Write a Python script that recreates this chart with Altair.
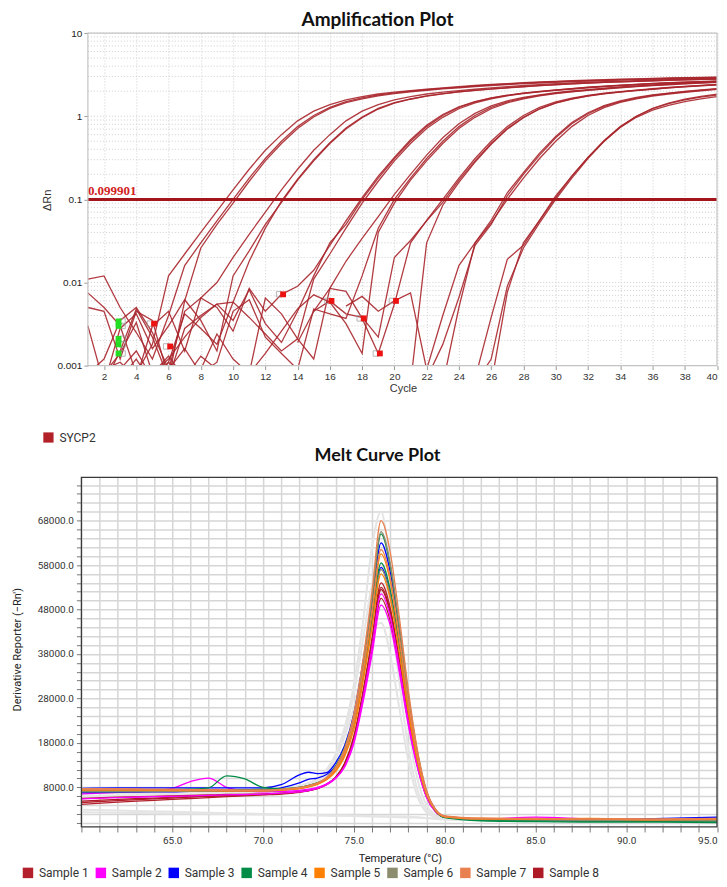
import altair as alt
import pandas as pd

# ---------------- Amplification plot: ΔRn per cycle, one list per well ----------------
THRESHOLD = 0.099901
TARGET = "SYCP2"

A1 = [0.011, 0.012, 0.005, 0.0025, 0.0012, 0.004, 0.016, 0.03, 0.055, 0.1, 0.18, 0.31, 0.5, 0.75, 1.02, 1.28, 1.5, 1.66, 1.8, 1.91, 2.0, 2.08, 2.16, 2.24, 2.31, 2.38, 2.44, 2.5, 2.55, 2.6, 2.64, 2.68, 2.72, 2.76, 2.79, 2.82, 2.85, 2.88, 2.91, 2.93]
A2 = [0.0075, 0.005, 0.003, 0.0008, 0.0018, 0.012, 0.022, 0.04, 0.072, 0.13, 0.23, 0.39, 0.6, 0.88, 1.15, 1.38, 1.57, 1.72, 1.85, 1.95, 2.03, 2.11, 2.19, 2.27, 2.34, 2.41, 2.47, 2.53, 2.58, 2.63, 2.67, 2.71, 2.75, 2.79, 2.82, 2.85, 2.88, 2.91, 2.94, 2.96]
A3 = [0.005, 0.0045, 0.0012, 0.0045, 0.0035, 0.0007, 0.006, 0.026, 0.05, 0.09, 0.165, 0.29, 0.47, 0.71, 0.98, 1.24, 1.46, 1.62, 1.76, 1.87, 1.97, 2.05, 2.13, 2.2, 2.27, 2.34, 2.4, 2.46, 2.51, 2.56, 2.6, 2.64, 2.68, 2.72, 2.75, 2.78, 2.81, 2.84, 2.86, 2.88]
B1 = [0.0008, 0.0012, 0.0035, 0.005, 0.0025, 0.0009, 0.0045, 0.0065, 0.01, 0.02, 0.038, 0.07, 0.13, 0.23, 0.39, 0.6, 0.88, 1.15, 1.38, 1.57, 1.72, 1.85, 1.95, 2.03, 2.11, 2.19, 2.27, 2.34, 2.4, 2.46, 2.51, 2.56, 2.6, 2.64, 2.68, 2.72, 2.75, 2.78, 2.81, 2.84]
B2 = [0.003, 0.0006, 0.0015, 0.0048, 0.0022, 0.0007, 0.0028, 0.004, 0.0055, 0.0058, 0.018, 0.045, 0.095, 0.175, 0.3, 0.48, 0.72, 0.98, 1.24, 1.46, 1.62, 1.76, 1.87, 1.97, 2.05, 2.13, 2.2, 2.27, 2.34, 2.4, 2.45, 2.5, 2.55, 2.59, 2.63, 2.67, 2.71, 2.74, 2.77, 2.8]
B3 = [0.0009, 0.0006, 0.0028, 0.0042, 0.0016, 0.003, 0.0062, 0.0035, 0.0015, 0.012, 0.024, 0.05, 0.092, 0.17, 0.29, 0.47, 0.7, 0.96, 1.22, 1.44, 1.6, 1.74, 1.86, 1.96, 2.04, 2.12, 2.19, 2.26, 2.33, 2.39, 2.45, 2.5, 2.55, 2.59, 2.63, 2.67, 2.7, 2.73, 2.76, 2.79]
C1 = [0.0007, 0.0009, 0.0011, 0.0007, 0.003, 0.0045, 0.0015, 0.0065, 0.005, 0.0026, 0.0085, 0.0045, 0.0072, 0.009, 0.014, 0.028, 0.055, 0.105, 0.19, 0.32, 0.52, 0.78, 1.05, 1.3, 1.5, 1.66, 1.79, 1.9, 1.99, 2.07, 2.15, 2.23, 2.3, 2.36, 2.42, 2.48, 2.53, 2.57, 2.61, 2.65]
C2 = [0.0006, 0.0008, 0.0014, 0.0033, 0.0008, 0.0012, 0.0022, 0.0038, 0.0055, 0.0035, 0.0082, 0.0032, 0.0019, 0.0045, 0.012, 0.03, 0.05, 0.1, 0.18, 0.31, 0.5, 0.75, 1.02, 1.28, 1.49, 1.65, 1.78, 1.89, 1.98, 2.06, 2.14, 2.22, 2.29, 2.35, 2.41, 2.47, 2.52, 2.56, 2.6, 2.64]
C3 = [0.0008, 0.0006, 0.0009, 0.0015, 0.0007, 0.0011, 0.0042, 0.0028, 0.0018, 0.0058, 0.0038, 0.0024, 0.0015, 0.0021, 0.011, 0.022, 0.045, 0.09, 0.165, 0.29, 0.47, 0.71, 0.97, 1.23, 1.45, 1.62, 1.76, 1.87, 1.96, 2.04, 2.12, 2.2, 2.27, 2.33, 2.39, 2.45, 2.5, 2.54, 2.58, 2.62]
D1 = [0.0007, 0.0006, 0.0009, 0.0006, 0.0008, 0.0013, 0.0007, 0.0009, 0.0024, 0.0012, 0.0008, 0.0065, 0.0042, 0.0021, 0.0012, 0.0085, 0.018, 0.034, 0.062, 0.115, 0.2, 0.34, 0.55, 0.81, 1.08, 1.33, 1.53, 1.68, 1.81, 1.92, 2.01, 2.09, 2.17, 2.25, 2.32, 2.38, 2.44, 2.5, 2.55, 2.6]
D2 = [0.0006, 0.0008, 0.0007, 0.0012, 0.0006, 0.0009, 0.0016, 0.0008, 0.0011, 0.0045, 0.0062, 0.0022, 0.0014, 0.0009, 0.0048, 0.0042, 0.0037, 0.012, 0.045, 0.1, 0.18, 0.31, 0.5, 0.75, 1.02, 1.28, 1.49, 1.65, 1.78, 1.89, 1.98, 2.06, 2.14, 2.22, 2.29, 2.35, 2.41, 2.47, 2.52, 2.57]
D3 = [0.0007, 0.0006, 0.0009, 0.0008, 0.0006, 0.0011, 0.0007, 0.0013, 0.0009, 0.0006, 0.0008, 0.0014, 0.0026, 0.0048, 0.0071, 0.0058, 0.0032, 0.0014, 0.04, 0.09, 0.17, 0.29, 0.47, 0.71, 0.97, 1.23, 1.45, 1.62, 1.76, 1.87, 1.96, 2.04, 2.12, 2.2, 2.27, 2.33, 2.39, 2.45, 2.5, 2.55]
E1 = [0.0019, 0.0045, 0.0085, 0.0078, 0.0037, 0.0014, 0.0055, 0.03, 0.056, 0.1, 0.18, 0.31, 0.5, 0.75, 1.02, 1.28, 1.49, 1.65, 1.78, 1.89, 1.98, 2.06, 2.14, 2.22, 2.29, 2.35, 2.41]
E2 = [0.0045, 0.006, 0.0042, 0.0038, 0.0022, 0.02, 0.032, 0.055, 0.092, 0.17, 0.29, 0.47, 0.71, 0.97, 1.23, 1.45, 1.62, 1.76, 1.87, 1.96, 2.04, 2.12, 2.2, 2.27, 2.33, 2.39]
E3 = [0.0006, 0.03, 0.085, 0.16, 0.28, 0.46, 0.7, 0.96, 1.22, 1.44, 1.61, 1.75, 1.86, 1.95, 2.03, 2.11, 2.19, 2.26, 2.32, 2.38]
F1 = [0.0052, 0.0068, 0.0045, 0.006, 0.0075, 0.0009, 0.004, 0.016, 0.03, 0.056, 0.12, 0.21, 0.36, 0.57, 0.84, 1.1, 1.34, 1.53, 1.68, 1.8, 1.9, 1.99, 2.07, 2.15]
F2 = [0.0007, 0.0018, 0.0066, 0.028, 0.05, 0.11, 0.2, 0.34, 0.55, 0.81, 1.07, 1.31, 1.5, 1.65, 1.78, 1.88, 1.97, 2.05, 2.13]
F3 = [0.0006, 0.005, 0.03, 0.052, 0.1, 0.18, 0.31, 0.5, 0.75, 1.02, 1.27, 1.47, 1.62, 1.75, 1.85, 1.94, 2.02, 2.1]
G1 = [0.0007, 0.0038, 0.019, 0.028, 0.056, 0.11, 0.19, 0.32, 0.5, 0.73, 0.97, 1.18, 1.35, 1.5, 1.62, 1.72]
G2 = [0.0006, 0.0076, 0.03, 0.056, 0.105, 0.19, 0.32, 0.51, 0.75, 1.0, 1.23, 1.42, 1.57, 1.7, 1.8]
G3 = [0.0006, 0.0012, 0.009, 0.026, 0.052, 0.1, 0.18, 0.31, 0.5, 0.74, 1.0, 1.24, 1.44, 1.6, 1.73, 1.84]

WELLS = ["A1", "A2", "A3", "B1", "B2", "B3", "C1", "C2", "C3", "D1", "D2", "D3",
         "E1", "E2", "E3", "F1", "F2", "F3", "G1", "G2", "G3"]
WELL_VALUES = [A1, A2, A3, B1, B2, B3, C1, C2, C3, D1, D2, D3, E1, E2, E3, F1, F2, F3, G1, G2, G3]
WELL_FIRST_CYCLE = [1, 1, 1, 1, 1, 1, 1, 1, 1, 1, 1, 1, 14, 15, 21, 17, 22, 23, 25, 26, 25]

BASE_END_CYCLE = [5.1, 6.1, 13.1, 16.1, 18.1, 19.1, 20.1]
BASE_END_DRN = [0.0032, 0.0017, 0.0072, 0.006, 0.0037, 0.0014, 0.006]
BASE_START_CYCLE = [2.9, 2.9, 2.9, 2.9, 2.9]
BASE_START_DRN = [0.0034, 0.003, 0.0021, 0.0018, 0.0014]

AMP_X_TICKS = [2, 4, 6, 8, 10, 12, 14, 16, 18, 20, 22, 24, 26, 28, 30, 32, 34, 36, 38, 40]
AMP_Y_TICKS = [0.001, 0.01, 0.1, 1, 10]
AMP_Y_GRID = [m * 10.0 ** e for e in range(-3, 1) for m in range(1, 10)] + [10.0]

# ---------------- Melt curve plot: derivative reporter per temperature ----------------
MELT_T = [60, 62, 64, 65, 66, 67, 68, 69, 70, 71, 72, 72.5, 73, 73.5, 74, 74.5, 75, 75.5, 76, 76.5,
          77, 77.5, 78, 78.5, 79, 79.5, 80, 82, 85, 88, 91, 95]

S1a = [4200, 4700, 5100, 5300, 5500, 5700, 5900, 6100, 6300, 6500, 6900, 7200, 7700, 8600, 10300, 13500, 19500, 29500, 41500, 54000, 48500, 37000, 24000, 13500, 6200, 2700, 1500, 900, 700, 600, 500, 600]
S1b = [4600, 5000, 5400, 5600, 5800, 5950, 6100, 6250, 6400, 6600, 7000, 7300, 7800, 8700, 10200, 13000, 18500, 27800, 39000, 50500, 45500, 35000, 22500, 12800, 5900, 2600, 1400, 800, 600, 500, 500, 400]
S2a = [6500, 6900, 7300, 7800, 9300, 10100, 8000, 7200, 7000, 7100, 7300, 7600, 8000, 8800, 10100, 12600, 17800, 27000, 37800, 49000, 44500, 34000, 22000, 12500, 5800, 2500, 1300, 800, 1100, 800, 600, 500]
S2b = [5400, 5700, 5900, 6000, 6100, 6200, 6300, 6400, 6500, 6700, 7000, 7300, 7800, 8600, 10000, 12800, 18300, 28000, 39500, 51500, 46500, 35500, 23000, 13000, 6000, 2600, 1400, 900, 1300, 900, 700, 600]
S3a = [7800, 7900, 7900, 7900, 7900, 7900, 7900, 7900, 7900, 8600, 10800, 11400, 11100, 11300, 13500, 17500, 24500, 36000, 49000, 63000, 56500, 43000, 28000, 15500, 7000, 3000, 1500, 900, 800, 700, 900, 1300]
S3b = [6800, 6900, 7000, 7000, 7100, 7100, 7200, 7300, 7500, 7900, 9000, 9800, 10100, 10900, 12800, 16500, 23000, 33500, 45500, 57500, 51800, 39500, 25800, 14500, 6600, 2800, 1400, 800, 700, 600, 700, 1100]
S4a = [7300, 7400, 7500, 7500, 7600, 7900, 10600, 9900, 8000, 7700, 8000, 8400, 9000, 10200, 12800, 17000, 24000, 35500, 50000, 65000, 58000, 44000, 28500, 16000, 7000, 2800, 1200, 500, 300, 200, 200, 100]
S4b = [7100, 7200, 7300, 7300, 7400, 7400, 7500, 7500, 7600, 7700, 8000, 8400, 9000, 10000, 12200, 16000, 22500, 33000, 45500, 58500, 52500, 40000, 26000, 14500, 6600, 2800, 1300, 700, 500, 400, 400, 300]
S5a = [7600, 7600, 7500, 7500, 7400, 7400, 7300, 7300, 7300, 7500, 7800, 8200, 8800, 9900, 12000, 15800, 22500, 33500, 47000, 60500, 54500, 41500, 27000, 15000, 6800, 2900, 1500, 1000, 900, 1000, 800, 900]
S5b = [7400, 7400, 7350, 7300, 7300, 7250, 7200, 7200, 7200, 7400, 7700, 8100, 8700, 9700, 11600, 15000, 21000, 31500, 43800, 56000, 50500, 38500, 25000, 14000, 6400, 2800, 1400, 900, 800, 900, 700, 800]
S6a = [7200, 7200, 7200, 7200, 7200, 7200, 7200, 7300, 7300, 7500, 7900, 8300, 8900, 10000, 12400, 16500, 23800, 35500, 50500, 65500, 58500, 44500, 29000, 16000, 7200, 3000, 1500, 900, 800, 700, 700, 600]
S6b = [7000, 7000, 7050, 7100, 7100, 7100, 7150, 7200, 7200, 7400, 7800, 8200, 8800, 9800, 11900, 15500, 21800, 32000, 44500, 57000, 51300, 39000, 25500, 14200, 6500, 2800, 1400, 800, 700, 600, 600, 500]
S7a = [7700, 7700, 7600, 7600, 7500, 7500, 7500, 7400, 7400, 7600, 8000, 8400, 9000, 10200, 12600, 16800, 24500, 36500, 52000, 68000, 61000, 46500, 30000, 16500, 7400, 3100, 1600, 1100, 1000, 900, 900, 1000]
S7b = [7500, 7500, 7450, 7400, 7400, 7350, 7300, 7300, 7300, 7500, 7900, 8300, 8900, 10000, 12200, 16000, 23000, 34000, 47800, 61500, 55300, 42000, 27300, 15200, 6900, 2900, 1500, 1000, 900, 900, 800, 900]
S8a = [4900, 5300, 5600, 5800, 5950, 6100, 6200, 6300, 6450, 6650, 7000, 7300, 7800, 8700, 10200, 13300, 19000, 28800, 40500, 53000, 47800, 36500, 23500, 13300, 6100, 2700, 1400, 800, 700, 600, 500, 500]
S8b = [5500, 5800, 6000, 6100, 6200, 6300, 6400, 6450, 6500, 6700, 7050, 7350, 7850, 8700, 10200, 13200, 18800, 28500, 40000, 52500, 47300, 36200, 23300, 13200, 6000, 2600, 1300, 700, 600, 500, 500, 400]

GR1 = [7000, 7100, 7200, 7200, 7300, 7300, 7400, 7400, 7500, 7800, 8400, 9000, 10000, 12000, 15500, 21500, 31000, 45000, 62000, 70000, 58000, 40000, 22000, 10000, 4000, 1800, 1000, 700, 600, 600, 500, 500]
GR2 = [6000, 6200, 6300, 6400, 6400, 6500, 6600, 6600, 6700, 7000, 7600, 8200, 9200, 11000, 14500, 19500, 26000, 35000, 42500, 45000, 38000, 26000, 14000, 6000, 2400, 1300, 900, 700, 600, 600, 500, 500]
GR3 = [6600, 6700, 6800, 6800, 6900, 6900, 7000, 7000, 7100, 7400, 8000, 8600, 9600, 11500, 15000, 20500, 29000, 41000, 53500, 58000, 48000, 32000, 17000, 7500, 3000, 1500, 900, 700, 600, 500, 500, 500]
GR4 = [3000, 2800, 2600, 2500, 2400, 2300, 2200, 2100, 2000, 1900, 1800, 1800, 1750, 1700, 1700, 1650, 1600, 1600, 1550, 1500, 1500, 1450, 1400, 1300, 1100, 900, 800, 700, 600, 600, 500, 500]
GR5 = [2400, 2300, 2200, 2150, 2100, 2050, 2000, 1950, 1900, 1850, 1800, 1750, 1700, 1650, 1600, 1600, 1550, 1500, 1450, 1400, 1350, 1300, 1250, 1200, 1100, 1000, 900, 800, 700, 600, 600, 500]

SAMPLES = ["Sample 1", "Sample 2", "Sample 3", "Sample 4", "Sample 5", "Sample 6", "Sample 7", "Sample 8"]
SAMPLE_COLORS = ["#b3202c", "#ff00ff", "#0000ff", "#008c46", "#ff8000", "#8c8c6e", "#e8804f", "#ad1a26"]
MELT_CURVE_SAMPLE = ["Sample 1", "Sample 1", "Sample 8", "Sample 8", "Sample 2", "Sample 2", "Sample 3", "Sample 3",
                     "Sample 4", "Sample 4", "Sample 6", "Sample 6", "Sample 5", "Sample 5", "Sample 7", "Sample 7"]
MELT_CURVE_VALUES = [S1a, S1b, S8a, S8b, S2a, S2b, S3a, S3b, S4a, S4b, S6a, S6b, S5a, S5b, S7a, S7b]
GRAY_CURVES = [GR1, GR2, GR3, GR4, GR5]

MELT_X_TICKS = list(range(60, 96))
MELT_Y_TICKS = list(range(0, 76001, 2000))

AMP_TITLE = "Amplification Plot"
MELT_TITLE = "Melt Curve Plot"

# ---------------- tables ----------------
amp_rows = []
for w, first, vals in zip(WELLS, WELL_FIRST_CYCLE, WELL_VALUES):
    for i, v in enumerate(vals):
        amp_rows.append({"well": w, "cycle": first + i, "dRn": v, "target": TARGET})
amp_df = pd.DataFrame(amp_rows)

melt_rows = []
for k, (s, vals) in enumerate(zip(MELT_CURVE_SAMPLE, MELT_CURVE_VALUES)):
    for t, v in zip(MELT_T, vals):
        melt_rows.append({"curve": k, "sample": s, "temp": t, "deriv": v})
melt_df = pd.DataFrame(melt_rows)
melt_key_df = melt_df.drop_duplicates("sample")

gray_rows = []
for k, vals in enumerate(GRAY_CURVES):
    for t, v in zip(MELT_T, vals):
        gray_rows.append({"curve": k, "temp": t, "deriv": v})
gray_df = pd.DataFrame(gray_rows)

# ---------------- layout constants (pixels) ----------------
PLOT_W = 636.5
AMP_H = 333
MELT_H = 350
FRAME_INSET = 6.5          # amp frame starts this far right of the shared left origin
AX_FONT = "Liberation Sans"

# ---------------- amplification chart ----------------
amp_xs = alt.Scale(domain=[1 - FRAME_INSET / ((PLOT_W - FRAME_INSET) / 39), 40], nice=False, zero=False)
amp_ys = alt.Scale(type="log", domain=[0.001, 10], nice=False)
amp_xaxis = alt.Axis(values=AMP_X_TICKS, grid=True, gridColor="#cfcfcf", gridDash=[1, 2], gridWidth=1,
                     domain=False, tickSize=4, tickColor="#999999", labelFont=AX_FONT, labelFontSize=10,
                     labelColor="#333333", labelPadding=2, labelFlush=True, title="Cycle", titleFont=AX_FONT,
                     titleFontSize=11, titleFontWeight="normal", titleColor="#333333", titleX=322, titleY=23,
                     titleAlign="center", titleBaseline="middle")
amp_yaxis = alt.Axis(values=AMP_Y_TICKS, format="~g", grid=False, domain=False, offset=-FRAME_INSET, tickSize=4,
                     tickColor="#999999", labelFont=AX_FONT, labelFontSize=10, labelColor="#222222",
                     labelPadding=2, title="ΔRn", titleFont=AX_FONT, titleFontSize=11, titleFontWeight="normal",
                     titleColor="#333333", titleX=-40, titleY=167, titleAlign="center", titleBaseline="middle")


def ax(field):
    return alt.X(field, type="quantitative", scale=amp_xs, axis=amp_xaxis)


def ay(field):
    return alt.Y(field, type="quantitative", scale=amp_ys, axis=amp_yaxis)


ygrid = alt.Chart(pd.DataFrame({"dRn": AMP_Y_GRID, "cycle": [1] * len(AMP_Y_GRID),
                                "cycle2": [40] * len(AMP_Y_GRID)})).mark_rule(
    color="#cfcfcf", strokeDash=[1, 2], strokeWidth=1).encode(x=ax("cycle"), x2="cycle2", y=ay("dRn"))

frame_df = pd.DataFrame({"cycle": [1], "cycle2": [40], "dRn": [0.001], "dRn2": [10]})
amp_frame = alt.Chart(frame_df).mark_rect(fillOpacity=0, stroke="#c4c4c4", strokeWidth=1.2).encode(
    x=ax("cycle"), x2="cycle2", y=ay("dRn"), y2="dRn2")

amp_lines = alt.Chart(amp_df).mark_line(clip=True, strokeWidth=1.3, opacity=0.9, color="#a8262c").encode(
    x=ax("cycle"), y=ay("dRn"), detail="well:N")

thr_df = pd.DataFrame({"cycle": [1], "cycle2": [40], "dRn": [THRESHOLD], "label": ["0.099901"],
                       "target": [TARGET]})
thr_rule = alt.Chart(thr_df).mark_rule(color="#a3151b", strokeWidth=3).encode(x=ax("cycle"), x2="cycle2", y=ay("dRn"))
thr_text = alt.Chart(thr_df).mark_text(align="left", baseline="bottom", font="Liberation Serif", fontWeight="bold",
                                       fontSize=13, color="#d02020", dy=-1).encode(
    x=ax("cycle"), y=ay("dRn"), text="label:N")

amp_key = alt.Chart(thr_df).mark_square(opacity=0, size=10).encode(
    x=ax("cycle"), y=ay("dRn"),
    color=alt.Color("target:N", scale=alt.Scale(domain=[TARGET], range=["#b22028"]),
                    legend=alt.Legend(title=None, orient="none", legendX=-39, legendY=399, symbolType="square",
                                      symbolSize=105, symbolStrokeWidth=0, symbolOpacity=1, labelFont="Roboto",
                                      labelFontSize=12, labelColor="#333333", labelOffset=5, padding=0)))

end_df = pd.DataFrame({"cycle": BASE_END_CYCLE, "dRn": BASE_END_DRN})
start_df = pd.DataFrame({"cycle": BASE_START_CYCLE, "dRn": BASE_START_DRN})
end_open = alt.Chart(end_df).mark_square(size=30, filled=False, color="#9a9a9a", strokeWidth=1, xOffset=-4).encode(
    x=ax("cycle"), y=ay("dRn"))
end_fill = alt.Chart(end_df).mark_square(size=34, filled=True, color="#ee1111", opacity=1).encode(
    x=ax("cycle"), y=ay("dRn"))
start_open = alt.Chart(start_df).mark_square(size=30, filled=False, color="#9a9a9a", strokeWidth=1, xOffset=4).encode(
    x=ax("cycle"), y=ay("dRn"))
start_fill = alt.Chart(start_df).mark_square(size=34, filled=True, color="#22dd22", opacity=1).encode(
    x=ax("cycle"), y=ay("dRn"))

amp_title = alt.Chart(pd.DataFrame({"t": [AMP_TITLE]})).mark_text(
    font="Lato", fontSize=19, fontWeight="bold", color="#111111", align="center", baseline="middle").encode(
    text="t:N", x=alt.value(296.5), y=alt.value(-13.5))

amp = alt.layer(ygrid, amp_lines, thr_rule, thr_text, end_open, end_fill, start_open, start_fill, amp_frame,
                amp_key, amp_title).properties(width=PLOT_W, height=AMP_H)

# ---------------- melt chart ----------------
m_xs = alt.Scale(domain=[60, 95], nice=False, zero=False)
m_ys = alt.Scale(domain=[-900, 77700], nice=False, zero=False)
m_xaxis = alt.Axis(values=MELT_X_TICKS, grid=True, gridColor="#d6d6d6", gridWidth=1.5, domain=False, tickSize=5,
                   tickColor="#777777",
                   labelExpr="datum.value % 5 == 0 && datum.value > 60 ? format(datum.value, '.1f') : ''",
                   labelFont="Roboto", labelFontSize=10, labelColor="#333333", labelPadding=4, labelFlush=True,
                   title="Temperature (°C)", titleFont="Roboto", titleFontSize=11, titleFontWeight="normal",
                   titleColor="#222222", titleX=319, titleY=31.5, titleAlign="center", titleBaseline="middle")
m_yaxis = alt.Axis(values=MELT_Y_TICKS, grid=True, gridColor="#d6d6d6", gridWidth=1.5, domain=False, tickSize=5,
                   tickColor="#777777",
                   labelExpr="(datum.value - 8000) % 10000 == 0 ? format(datum.value, '.1f') : ''",
                   labelFont="Roboto", labelFontSize=10, labelColor="#333333", labelPadding=3,
                   title="Derivative Reporter (−Rn′)", titleFont="Roboto", titleFontSize=11,
                   titleFontWeight="normal", titleColor="#222222", titleX=-64, titleY=172, titleAlign="center",
                   titleBaseline="middle")


def mx(field):
    return alt.X(field, type="quantitative", scale=m_xs, axis=m_xaxis)


def my(field):
    return alt.Y(field, type="quantitative", scale=m_ys, axis=m_yaxis)


gray_lines = alt.Chart(gray_df).mark_line(clip=True, strokeWidth=2, color="#e4e4e4", interpolate="monotone").encode(
    x=mx("temp"), y=my("deriv"), detail="curve:N")
melt_lines = alt.Chart(melt_df).mark_line(clip=True, strokeWidth=1.3, interpolate="monotone").encode(
    x=mx("temp"), y=my("deriv"), detail="curve:N",
    stroke=alt.Stroke("sample:N", scale=alt.Scale(domain=SAMPLES, range=SAMPLE_COLORS), legend=None))
melt_key = alt.Chart(melt_key_df).mark_square(opacity=0, size=10).encode(
    x=mx("temp"), y=my("deriv"),
    color=alt.Color("sample:N", scale=alt.Scale(domain=SAMPLES, range=SAMPLE_COLORS),
                    legend=alt.Legend(title=None, orient="none", direction="horizontal", legendX=-59.5,
                                      legendY=390, symbolType="square", symbolSize=110, symbolStrokeWidth=0,
                                      symbolOpacity=1, labelFont="Roboto", labelFontSize=12,
                                      labelColor="#333333", labelOffset=5, columnPadding=6, padding=0,
                                      columns=8)))
mframe_df = pd.DataFrame({"temp": [60], "temp2": [95], "deriv": [-900], "deriv2": [77700]})
melt_frame = alt.Chart(mframe_df).mark_rect(fillOpacity=0, stroke="#3a3a3a", strokeWidth=1.3).encode(
    x=mx("temp"), x2="temp2", y=my("deriv"), y2="deriv2")
melt_title = alt.Chart(pd.DataFrame({"t": [MELT_TITLE]})).mark_text(
    font="Lato", fontSize=18, fontWeight="bold", color="#111111", align="center", baseline="middle").encode(
    text="t:N", x=alt.value(296.5), y=alt.value(-21))

melt = alt.layer(gray_lines, melt_lines, melt_frame, melt_key, melt_title).properties(width=PLOT_W, height=MELT_H)

chart = alt.vconcat(amp, melt, spacing=112, bounds="flush").resolve_scale(
    color="independent").resolve_legend(color="independent").properties(
    padding={"left": 3.5, "top": 1.5, "right": 0, "bottom": 0}).configure_view(stroke=None)

chart.save("out.html", embed_options={"renderer": "svg", "actions": False})
